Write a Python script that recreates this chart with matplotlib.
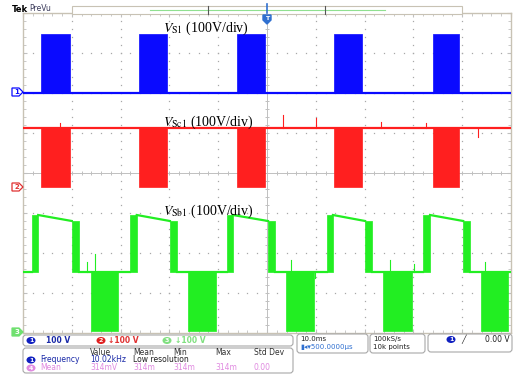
import numpy as np
import matplotlib.pyplot as plt
from matplotlib.patches import FancyBboxPatch, Polygon, Rectangle, Ellipse

W, H = 515, 387

# time in ms (10 ms/div), amplitudes in volts (100 V/div)
s1_on = [3.7, 23.8, 43.8, 63.7, 84.0]
s1_off = [9.6, 29.5, 49.6, 69.5, 89.3]
s1_level = 148
sc1_level = 148

sb1_rise_on = [1.8, 21.9, 41.8, 62.3, 82.0]
sb1_rise_off = [3.1, 23.3, 43.0, 63.5, 83.4]
sb1_fall_on = [10.0, 30.1, 50.2, 70.1, 90.2]
sb1_fall_off = [11.5, 31.6, 51.6, 71.5, 91.6]
sb1_low_on = [13.9, 33.8, 53.9, 73.8, 93.9]
sb1_low_off = [19.5, 39.5, 59.6, 79.7, 99.4]
sb1_mid = 148
sb1_top_start = 290
sb1_top_end = 275

# switching spikes riding on the traces (ms, volts)
sc1_spike_t = [7.5, 53.3, 60.0, 73.4, 82.6, 93.2]
sc1_spike_v = [12, 33, 25, 15, 12, -22]
sb1_spike_t = [13.1, 14.8, 54.9, 59.8, 75.2, 80.1, 94.7]
sb1_spike_v = [25, 45, 30, -15, 30, 20, 25]

# ground reference of each channel, in divisions from screen centre
off1, off2, off3 = 2.0, -0.35, -3.95

BLUE = '#0a0aff'
RED = '#ff1f1f'
GREEN = '#22ee22'
GRID = '#a8a8a8'

plt.rcParams['mathtext.fontset'] = 'stix'

fig = plt.figure(figsize=(W / 100, H / 100), dpi=100, facecolor='white')
ax = fig.add_axes([23 / W, 1 - 333 / H, 488 / W, 320 / H])
ax.set_xlim(0, 100)
ax.set_ylim(-4, 4)
ax.set_facecolor('white')
for sp in ax.spines.values():
    sp.set_color('#c8c2b4')
    sp.set_linewidth(1.0)
ax.set_xticks(np.arange(0, 101, 10))
ax.set_xticks(np.arange(0, 101, 2), minor=True)
ax.set_yticks(np.arange(-4, 5, 1))
ax.set_yticks(np.arange(-4, 4.01, 0.2), minor=True)
ax.tick_params(which='both', direction='in', top=True, right=True,
               labelbottom=False, labelleft=False, color='#c0c0c0')
ax.tick_params(which='major', length=3)
ax.tick_params(which='minor', length=2)

# graticule: dotted division lines and the centre cross
xs = np.arange(0, 101, 2)
ys = np.arange(-4, 4.01, 0.2)
for yv in range(-3, 4):
    if yv != 0:
        ax.plot(xs, [yv] * len(xs), ls='none', marker='s', ms=0.9, color=GRID, mec='none')
for xv in range(10, 100, 10):
    if xv != 50:
        ax.plot([xv] * len(ys), ys, ls='none', marker='s', ms=0.9, color=GRID, mec='none')
ax.axhline(0, color='#c0c0c0', lw=0.7)
ax.axvline(50, color='#c0c0c0', lw=0.7)
ax.plot(xs, [0] * len(xs), ls='none', marker='|', ms=3, color='#c0c0c0', mew=0.7)
ax.plot([50] * len(ys), ys, ls='none', marker='_', ms=3, color='#c0c0c0', mew=0.7)

# V_S1
top1 = off1 + s1_level / 100
ax.plot([0, 100], [off1, off1], color=BLUE, lw=1.6, zorder=3)
for a, b in zip(s1_on, s1_off):
    ax.fill_between([a, b], off1, top1, color=BLUE, lw=0.5, zorder=3)

# V_Sc1
top2 = off2 + sc1_level / 100
ax.plot([0, 100], [top2, top2], color=RED, lw=1.6, zorder=3)
for a, b in zip(s1_on, s1_off):
    ax.fill_between([a, b], off2, top2, color=RED, lw=0.5, zorder=3)
for t, v in zip(sc1_spike_t, sc1_spike_v):
    ax.plot([t, t], [top2, top2 + v / 100], color=RED, lw=0.8, zorder=3)

# V_Sb1
mid3 = off3 + sb1_mid / 100
hi_a = off3 + sb1_top_start / 100
hi_b = off3 + sb1_top_end / 100
mid_from = [0] + sb1_fall_off
mid_to = sb1_rise_on + [100]
for a, b in zip(mid_from, mid_to):
    ax.plot([a, b], [mid3, mid3], color=GREEN, lw=1.6, zorder=3)
for a, b in zip(sb1_rise_off, sb1_fall_on):
    ax.plot([a, b], [hi_a, hi_b], color=GREEN, lw=1.6, zorder=3)
for a, b in zip(sb1_rise_on, sb1_rise_off):
    ax.fill_between([a, b], mid3, hi_a, color=GREEN, lw=0.5, zorder=3)
for a, b in zip(sb1_fall_on, sb1_fall_off):
    ax.fill_between([a, b], mid3, hi_b, color=GREEN, lw=0.5, zorder=3)
for a, b in zip(sb1_low_on, sb1_low_off):
    ax.fill_between([a, b], off3, mid3, color=GREEN, lw=0.5, zorder=3)
for t, v in zip(sb1_spike_t, sb1_spike_v):
    ax.plot([t, t], [mid3, mid3 + v / 100], color=GREEN, lw=0.8, zorder=3)

# overlay in pixel coordinates for the scope chrome
ov = fig.add_axes([0, 0, 1, 1], zorder=5)
ov.set_xlim(0, W)
ov.set_ylim(H, 0)
ov.axis('off')
ov.patch.set_alpha(0)

lab = dict(family='Liberation Serif', fontsize=10, color='black', va='center', ha='left')
ov.text(163, 28, r'$V_{\rm S1}$ (100V/div)', **lab)
ov.text(163, 122, r'$V_{\rm Sc1}$ (100V/div)', **lab)
ov.text(163, 211, r'$V_{\rm Sb1}$ (100V/div)', **lab)

# top bar
ov.text(12, 9, 'Tek', fontsize=6, weight='bold', color='black', va='center')
ov.text(29, 8.5, 'PreVu', fontsize=5.5, color='#3a3a5a', va='center')
ov.add_patch(Rectangle((72, 6), 390, 8, fc='white', ec='#c8c2b4', lw=0.8))
ov.plot([150, 385], [10, 10], color='#90e090', lw=0.8)
ov.plot([208, 208], [6, 14], color='#555555', lw=0.8)
ov.plot([325, 325], [6, 14], color='#555555', lw=0.8)
ov.plot([267, 267], [4, 13], color='#3070d0', lw=1.2)
ov.add_patch(Polygon([(263, 15), (271, 15), (271, 20), (267, 24), (263, 20)],
                     closed=True, fc='#3070d0', ec='#3070d0'))
ov.text(267, 18.5, 'T', fontsize=4.5, color='white', ha='center', va='center', weight='bold')


def ch_marker(y, num, color, filled):
    pts = [(12, y - 4), (19, y - 4), (23, y), (19, y + 4), (12, y + 4)]
    ov.add_patch(Polygon(pts, closed=True, fc=color if filled else 'white', ec=color, lw=0.9))
    ov.text(16.5, y + 0.3, num, fontsize=5, color='white' if filled else color,
            ha='center', va='center', weight='bold')


ch_marker(92, '1', BLUE, False)
ch_marker(187, '2', '#e03030', False)
ch_marker(332, '3', '#70e070', True)


def box(x0, y0, x1, y1):
    ov.add_patch(FancyBboxPatch((x0, y0), x1 - x0, y1 - y0,
                                boxstyle='round,pad=0,rounding_size=3',
                                fc='white', ec='#a8a8a8', lw=0.8))


def badge(x, y, num, color):
    ov.add_patch(Ellipse((x, y), 9, 7, fc=color, ec='none'))
    ov.text(x, y + 0.3, num, fontsize=4.5, color='white', ha='center', va='center', weight='bold')


small = dict(fontsize=5.5, va='center', ha='left')
tiny = dict(fontsize=5, va='center', ha='left')

# channel readout row
box(23, 335, 293, 346)
badge(31, 340.5, '1', '#1020c0')
ov.text(46, 340.5, '100 V', color='#1a2aa8', weight='bold', **small)
badge(101, 340.5, '2', '#e02020')
ov.text(108, 340.5, '\u2193100 V', color='#e03030', weight='bold', **small)
badge(167, 340.5, '3', '#80e080')
ov.text(175, 340.5, '\u2193100 V', color='#80e080', weight='bold', **small)

box(297, 334, 368, 353)
ov.text(300, 339, '10.0ms', color='#202020', **tiny)
ov.text(300, 347.5, '\u25ae\u25c2\u25be500.0000\u00b5s', color='#3070d0', **tiny)
box(370, 334, 425, 353)
ov.text(373, 339, '100kS/s', color='#202020', **tiny)
ov.text(373, 347.5, '10k points', color='#202020', **tiny)
box(428, 334, 512, 352)
badge(451, 339.5, '1', '#1020c0')
ov.text(461, 339.5, '\u2571', color='#202020', **small)
ov.text(510, 339.5, '0.00 V', color='#202020', fontsize=5.5, va='center', ha='right')

# measurement table
box(23, 348, 293, 373)
for x, s in zip([90, 133, 173, 215, 254], ['Value', 'Mean', 'Min', 'Max', 'Std Dev']):
    ov.text(x, 352.5, s, color='#303030', **small)
badge(31, 360, '1', '#1020c0')
ov.text(40, 360, 'Frequency', color='#1a2aa8', **small)
ov.text(90, 360, '10.02kHz', color='#1a2aa8', **small)
ov.text(133, 360, 'Low resolution', color='#202020', **small)
PINK = '#e08ae0'
badge(31, 368, '4', PINK)
for x, s in zip([40, 90, 133, 173, 215, 254], ['Mean', '314mV', '314m', '314m', '314m', '0.00']):
    ov.text(x, 368, s, color=PINK, **small)

fig.savefig('out.png', dpi=100, facecolor='white')
